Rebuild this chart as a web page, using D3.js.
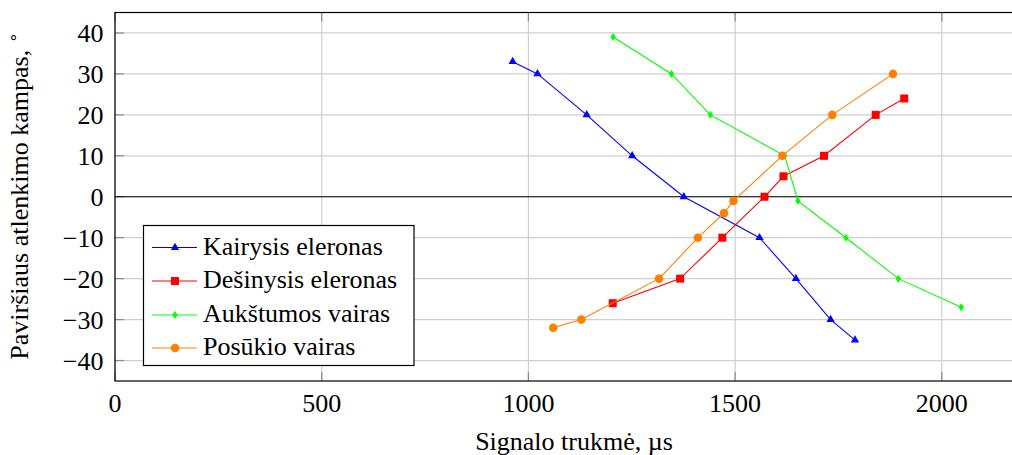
<!DOCTYPE html>
<html>
<head>
<meta charset="utf-8">
<script src="https://cdn.jsdelivr.net/npm/d3@7"></script>
<style>
  body { margin: 0; background: #fff; }
</style>
</head>
<body>
<div id="app"></div>
<script>
const xTicks = [0, 500, 1000, 1500, 2000];
const yTicks = [-40, -30, -20, -10, 0, 10, 20, 30, 40];

const kairysis = [
  [962, 33], [1022, 30], [1141, 20], [1251, 10], [1376, 0],
  [1559, -10], [1647, -20], [1731, -30], [1790, -35]
];
const desinysis = [
  [1204, -26], [1367, -20], [1469, -10], [1571, 0], [1617, 5],
  [1715, 10], [1840, 20], [1909, 24]
];
const aukstumos = [
  [1205, 39], [1346, 30], [1440, 20], [1620, 10], [1652, -1],
  [1768, -10], [1895, -20], [2047, -27]
];
const posukio = [
  [1060, -32], [1128, -30], [1316, -20], [1410, -10], [1473, -4],
  [1496, -1], [1614, 10], [1735, 20], [1882, 30]
];

const series = [
  { name: "Kairysis eleronas", data: kairysis, color: "#0000ff", mark: "triangle" },
  { name: "Dešinysis eleronas", data: desinysis, color: "#ff0000", mark: "square" },
  { name: "Aukštumos vairas", data: aukstumos, color: "#00ff00", mark: "diamond" },
  { name: "Posūkio vairas", data: posukio, color: "#ff8000", mark: "circle" }
];

const serif = "serif";

const chart = () => {
  const width = 1012;
  const height = 455;
  const left = 115, right = 1015, top = 12.5, bottom = 381;

  const svg = d3.select("#app").append("svg")
    .attr("width", width).attr("height", height)
    .style("display", "block");

  const x = d3.scaleLinear().domain([0, 2177]).range([left, right]);
  const y = d3.scaleLinear().domain([-45, 45]).range([bottom, top]);

  const label = (sel) => sel.attr("font-family", serif).style("font-size", "26px");

  // grid
  svg.append("g")
    .selectAll("line")
    .data(xTicks)
    .join("line")
    .attr("x1", (d) => x(d)).attr("x2", (d) => x(d))
    .attr("y1", top).attr("y2", bottom)
    .attr("stroke", "#cfcfcf").attr("stroke-width", 1.2);
  svg.append("g")
    .selectAll("line")
    .data(yTicks)
    .join("line")
    .attr("x1", left).attr("x2", right)
    .attr("y1", (d) => y(d)).attr("y2", (d) => y(d))
    .attr("stroke", "#cfcfcf").attr("stroke-width", 1.2);

  // tick marks (inward)
  const tickLen = 9;
  const tk = svg.append("g").attr("stroke", "#8a8a8a").attr("stroke-width", 1.2);
  xTicks.forEach((d) => {
    tk.append("line").attr("x1", x(d)).attr("x2", x(d)).attr("y1", bottom).attr("y2", bottom - tickLen);
    tk.append("line").attr("x1", x(d)).attr("x2", x(d)).attr("y1", top).attr("y2", top + tickLen);
  });
  yTicks.forEach((d) => {
    tk.append("line").attr("x1", left).attr("x2", left + tickLen).attr("y1", y(d)).attr("y2", y(d));
  });

  // zero line
  svg.append("line")
    .attr("x1", left).attr("x2", right)
    .attr("y1", y(0)).attr("y2", y(0))
    .attr("stroke", "#000").attr("stroke-width", 1.2);

  // frame
  svg.append("rect")
    .attr("x", left).attr("y", top)
    .attr("width", right - left).attr("height", bottom - top)
    .attr("fill", "none").attr("stroke", "#000").attr("stroke-width", 1.2);

  // tick labels
  svg.append("g")
    .selectAll("text")
    .data(xTicks)
    .join("text")
    .attr("x", (d) => x(d)).attr("y", 411.5)
    .attr("text-anchor", "middle")
    .call(label)
    .text((d) => d);
  svg.append("g")
    .selectAll("text")
    .data(yTicks)
    .join("text")
    .attr("x", 103.5).attr("y", (d) => y(d) + 9)
    .attr("text-anchor", "end")
    .call(label)
    .text((d) => (d < 0 ? "\u2212" + Math.abs(d) : d));

  // axis labels
  svg.append("text")
    .attr("x", 574).attr("y", 450)
    .attr("text-anchor", "middle")
    .call(label)
    .text("Signalo trukmė, µs");

  const yl = svg.append("text")
    .attr("transform", `translate(28,196) rotate(-90)`)
    .attr("text-anchor", "middle")
    .call(label);
  yl.append("tspan").text("Paviršiaus atlenkimo kampas, ");
  yl.append("tspan").attr("dy", -10).style("font-size", "17px").text("\u2218");

  const symbolFor = (m) => {
    if (m === "triangle") return d3.symbol(d3.symbolTriangle, 30)();
    if (m === "square") return d3.symbol(d3.symbolSquare, 64)();
    if (m === "diamond") return "M0,-4L2.7,0L0,4L-2.7,0Z";
    return d3.symbol(d3.symbolCircle, 58)();
  };

  const line = d3.line().x((d) => x(d[0])).y((d) => y(d[1]));

  series.forEach((s) => {
    svg.append("path")
      .attr("d", line(s.data))
      .attr("fill", "none")
      .attr("stroke", s.color)
      .attr("stroke-width", 1.1);
    svg.append("g")
      .selectAll("path")
      .data(s.data)
      .join("path")
      .attr("transform", (d) => `translate(${x(d[0])},${y(d[1])})`)
      .attr("d", symbolFor(s.mark))
      .attr("fill", s.color);
  });

  // legend
  const lg = svg.append("g");
  lg.append("rect")
    .attr("x", 143.5).attr("y", 225.5)
    .attr("width", 270.5).attr("height", 140)
    .attr("fill", "#fff").attr("stroke", "#000").attr("stroke-width", 1.2);
  const rowY = [247.5, 281, 315, 348];
  series.forEach((s, i) => {
    const ry = rowY[i];
    lg.append("line")
      .attr("x1", 152).attr("x2", 197)
      .attr("y1", ry).attr("y2", ry)
      .attr("stroke", s.color).attr("stroke-width", 1.1);
    lg.append("path")
      .attr("transform", `translate(175,${ry})`)
      .attr("d", symbolFor(s.mark))
      .attr("fill", s.color);
    lg.append("text")
      .attr("x", 203).attr("y", ry + 7)
      .call(label)
      .text(s.name);
  });
};

chart();
</script>
</body>
</html>
